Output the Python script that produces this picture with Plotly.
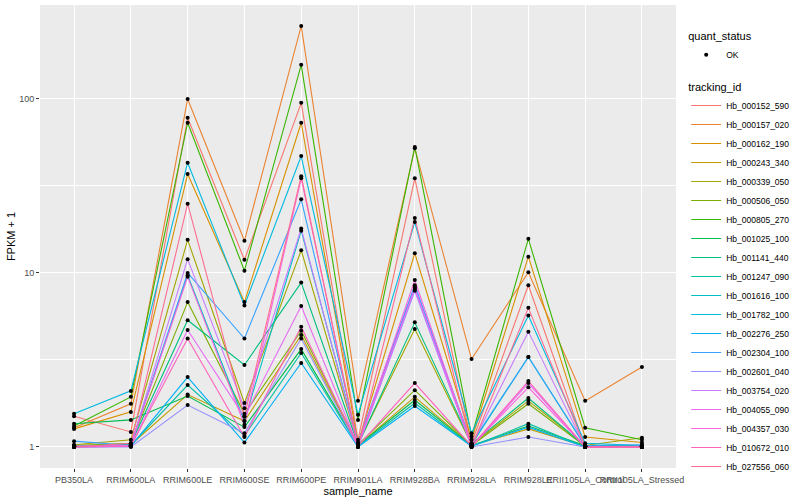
import plotly.graph_objects as go

samples = ["PB350LA", "RRIM600LA", "RRIM600LE", "RRIM600SE", "RRIM600PE", "RRIM901LA",
           "RRIM928BA", "RRIM928LA", "RRIM928LE", "RRII105LA_Control", "RRII105LA_Stressed"]

tracking_ids = ["Hb_000152_590", "Hb_000157_020", "Hb_000162_190", "Hb_000243_340", "Hb_000339_050",
                "Hb_000506_050", "Hb_000805_270", "Hb_001025_100", "Hb_001141_440", "Hb_001247_090",
                "Hb_001616_100", "Hb_001782_100", "Hb_002276_250", "Hb_002304_100", "Hb_002601_040",
                "Hb_003754_020", "Hb_004055_090", "Hb_004357_030", "Hb_010672_010", "Hb_027556_060"]

colors = ["#F8766D", "#EA8331", "#D89000", "#C09B00", "#A3A500", "#7CAE00", "#39B600", "#00BB4E",
          "#00BF7D", "#00C1A3", "#00BFC4", "#00BAE0", "#00B0F6", "#35A2FF", "#9590FF", "#C77CFF",
          "#E76BF3", "#FA62DB", "#FF62BC", "#FF6C91"]

# FPKM + 1 values per tracking_id, in the order of `samples`
hb_000152_590 = [1.50, 1.22, 78.0, 11.9, 95.0, 1.10, 35.0, 1.05, 8.5, 1.00, 1.00]
hb_000157_020 = [1.29, 1.77, 100.0, 15.3, 263.0, 1.84, 52.0, 3.20, 10.1, 1.84, 2.88]
hb_000162_190 = [1.27, 1.59, 37.0, 6.8, 73.0, 1.05, 13.0, 1.10, 12.4, 1.14, 1.06]
hb_000243_340 = [1.02, 1.03, 2.0, 1.41, 4.4, 1.02, 1.94, 1.02, 1.27, 1.01, 1.02]
hb_000339_050 = [1.03, 1.10, 15.5, 1.79, 13.5, 1.04, 4.76, 1.03, 1.84, 1.02, 1.13]
hb_000506_050 = [1.02, 1.05, 6.8, 1.55, 4.65, 1.03, 2.12, 1.02, 1.77, 1.01, 1.02]
hb_000805_270 = [1.32, 1.94, 73.0, 10.3, 157.0, 1.43, 53.0, 1.15, 15.7, 1.29, 1.10]
hb_001025_100 = [1.36, 1.43, 1.96, 1.30, 3.65, 1.02, 1.86, 1.02, 1.32, 1.02, 1.01]
hb_001141_440 = [1.01, 1.04, 5.35, 2.96, 8.8, 1.03, 5.2, 1.04, 1.91, 1.01, 1.01]
hb_001247_090 = [1.00, 1.02, 2.27, 1.16, 3.47, 1.01, 1.79, 1.01, 1.36, 1.00, 1.00]
hb_001616_100 = [1.01, 1.03, 9.7, 1.41, 17.5, 1.05, 8.3, 1.03, 3.29, 1.01, 1.01]
hb_001782_100 = [1.55, 2.10, 43.0, 6.5, 47.0, 1.53, 19.6, 1.20, 5.7, 1.05, 1.02]
hb_002276_250 = [1.00, 1.01, 2.52, 1.06, 3.04, 1.00, 1.72, 1.01, 1.30, 1.00, 1.00]
hb_002304_100 = [1.08, 1.02, 10.0, 4.2, 26.5, 1.06, 8.5, 1.05, 3.29, 1.02, 1.03]
hb_002601_040 = [1.00, 1.00, 1.74, 1.20, 4.2, 1.00, 7.9, 1.00, 1.14, 1.00, 1.00]
hb_003754_020 = [1.01, 1.02, 12.0, 1.67, 18.0, 1.02, 8.0, 1.02, 4.6, 1.00, 1.01]
hb_004055_090 = [1.00, 1.01, 4.7, 1.49, 6.46, 1.01, 8.2, 1.00, 2.33, 1.00, 1.00]
hb_004357_030 = [1.01, 1.02, 9.5, 1.34, 35.0, 1.02, 9.1, 1.01, 2.2, 1.00, 1.00]
hb_010672_010 = [1.00, 1.01, 4.2, 1.14, 4.9, 1.01, 2.33, 1.01, 2.39, 1.00, 1.00]
hb_027556_060 = [1.00, 1.05, 25.0, 1.50, 36.0, 1.00, 20.7, 1.00, 6.3, 1.00, 1.00]

series = [hb_000152_590, hb_000157_020, hb_000162_190, hb_000243_340, hb_000339_050,
          hb_000506_050, hb_000805_270, hb_001025_100, hb_001141_440, hb_001247_090,
          hb_001616_100, hb_001782_100, hb_002276_250, hb_002304_100, hb_002601_040,
          hb_003754_020, hb_004055_090, hb_004357_030, hb_010672_010, hb_027556_060]

FONT = "Liberation Sans, Arial, sans-serif"

fig = go.Figure()
for name, col, vals in zip(tracking_ids, colors, series):
    fig.add_trace(go.Scatter(x=samples, y=vals, mode="lines", name=name,
                             line=dict(color=col, width=1.1), legend="legend2",
                             hoverinfo="skip"))

all_x, all_y = [], []
for vals in series:
    all_x += samples
    all_y += vals
fig.add_trace(go.Scatter(x=all_x, y=all_y, mode="markers", name="OK",
                         marker=dict(color="black", size=4, symbol="circle"),
                         legend="legend"))

fig.update_layout(
    width=800, height=500,
    margin=dict(l=40, r=121, t=5, b=32),
    paper_bgcolor="white", plot_bgcolor="#EBEBEB",
    font=dict(family=FONT, size=9, color="#4D4D4D"),
    xaxis=dict(type="category", categoryorder="array", categoryarray=samples,
               range=[-0.6, len(samples) - 0.4],
               showgrid=True, gridcolor="white", gridwidth=1.1,
               ticks="outside", ticklen=3, tickcolor="#333333", tickangle=0,
               tickfont=dict(size=9, color="#4D4D4D"), automargin=False,
               title=dict(text="sample_name", font=dict(size=11, color="black"), standoff=0),
               zeroline=False, showline=False),
    yaxis=dict(type="log", range=[-0.121, 2.54],
               tickvals=[1, 10, 100], ticktext=["1", "10", "100"],
               showgrid=True, gridcolor="white", gridwidth=1.1,
               minor=dict(tickvals=[3.1623, 31.623], showgrid=True, gridcolor="white",
                          gridwidth=0.5, ticks=""),
               ticks="outside", ticklen=3, tickcolor="#333333",
               tickfont=dict(size=9, color="#4D4D4D"), automargin=False,
               title=dict(text="FPKM + 1", font=dict(size=11, color="black"), standoff=1),
               zeroline=False, showline=False),
    legend=dict(title=dict(text="quant_status", font=dict(size=11, color="black")),
                x=1.016, xanchor="left", y=0.955, yanchor="top",
                font=dict(size=8.5, color="black"), bgcolor="rgba(0,0,0,0)",
                itemwidth=30),
    legend2=dict(title=dict(text="tracking_id", font=dict(size=11, color="black")),
                 x=1.016, xanchor="left", y=0.845, yanchor="top",
                 font=dict(size=8.5, color="black"), bgcolor="rgba(0,0,0,0)",
                 tracegroupgap=0, itemwidth=30),
    showlegend=True,
)

fig.write_html("out.html", config={"displayModeBar": False},
               post_script="document.body.style.margin='0';document.body.style.overflow='hidden';")
